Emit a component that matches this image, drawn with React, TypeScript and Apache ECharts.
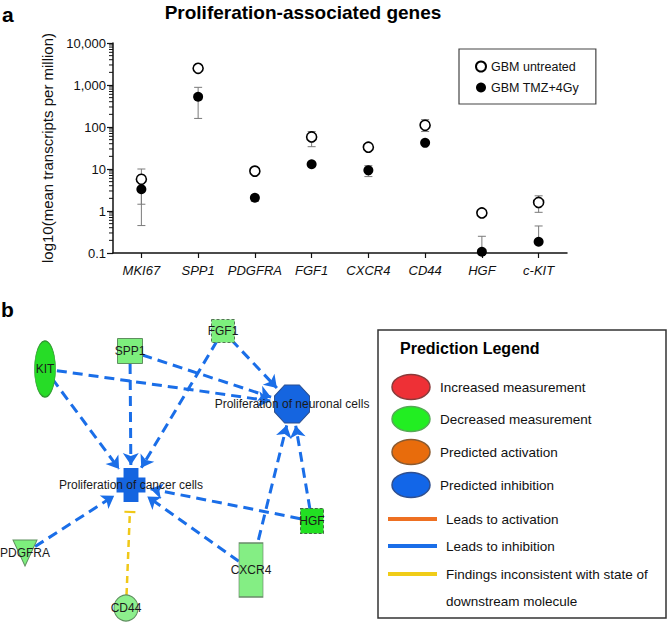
import { useEffect, useRef } from 'react';
import * as echarts from 'echarts';

// ---------- Panel a data ----------
const genes = ['MKI67', 'SPP1', 'PDGFRA', 'FGF1', 'CXCR4', 'CD44', 'HGF', 'c-KIT'];
const untreatedMean = [5.7, 2500, 8.9, 58, 33, 110, 0.9, 1.6];
const untreatedLow = [1.45, 2500, 8.9, 34, 33, 78, 0.9, 0.93];
const untreatedHigh = [10, 2500, 8.9, 78, 33, 150, 0.9, 2.3];
const treatedMean = [3.3, 525, 2.07, 13, 9.3, 42, 0.107, 0.185];
const treatedLow = [0.45, 160, 1.7, 13, 6.6, 42, 0.107, 0.185];
const treatedHigh = [6.1, 880, 2.4, 13, 12, 42, 0.25, 0.44];
const seriesNames = ['GBM untreated', 'GBM TMZ+4Gy'];
const decades = [0.1, 1, 10, 100, 1000];
const minorMultipliers = [2, 3, 4, 5, 6, 7, 8, 9];

// ---------- Panel b network ----------
const netNodes = ['KIT', 'SPP1', 'FGF1', 'Proliferation of neuronal cells', 'Proliferation of cancer cells', 'PDGFRA', 'CD44', 'CXCR4', 'HGF'];
const netEdges = [
  ['KIT', 'Proliferation of cancer cells'],
  ['KIT', 'Proliferation of neuronal cells'],
  ['SPP1', 'Proliferation of cancer cells'],
  ['SPP1', 'Proliferation of neuronal cells'],
  ['FGF1', 'Proliferation of cancer cells'],
  ['FGF1', 'Proliferation of neuronal cells'],
  ['PDGFRA', 'Proliferation of cancer cells'],
  ['CXCR4', 'Proliferation of cancer cells'],
  ['CXCR4', 'Proliferation of neuronal cells'],
  ['HGF', 'Proliferation of cancer cells'],
  ['HGF', 'Proliferation of neuronal cells'],
];
const inconsistentEdges = [['CD44', 'Proliferation of cancer cells']];
const legendShapes = ['Increased measurement', 'Decreased measurement', 'Predicted activation', 'Predicted inhibition'];
const legendLines = ['Leads to activation', 'Leads to inhibition', 'Findings inconsistent with state of'];

// layout (pixel positions of the diagram, not data)
const nodeLayout: Record<string, any> = {
  'KIT': { x: 45, y: 369, symbol: 'circle', size: [21, 56], color: '#27dc27', border: '#2f9a2f', clear: 24 },
  'SPP1': { x: 130, y: 351, symbol: 'rect', size: [25, 25], color: '#7def7d', border: '#5f8f5f', clear: 26 },
  'FGF1': { x: 223, y: 331, symbol: 'rect', size: [23, 23], color: '#7def7d', border: '#557755', dashed: true, clear: 24 },
  'Proliferation of neuronal cells': { x: 292, y: 404, symbol: 'path://M29,0 L71,0 L100,29 L100,71 L71,100 L29,100 L0,71 L0,29 Z', size: [35, 38], color: '#1565e0', border: '#2b4f8f', clear: 44 },
  'Proliferation of cancer cells': { x: 131, y: 485, symbol: 'path://M25,0 L75,0 L75,29 L100,29 L100,71 L75,71 L75,100 L25,100 L25,71 L0,71 L0,29 L25,29 Z', size: [28, 33], color: '#1565e0', border: '#1565e0', clear: 40, clearT: 54 },
  'PDGFRA': { x: 25, y: 553, symbol: 'triangle', rotate: 180, size: [24, 26], color: '#7def7d', border: '#5f8f5f', clear: 24 },
  'CD44': { x: 126, y: 608, symbol: 'circle', size: [24, 26], color: '#8def8d', border: '#5f8f5f', clear: 26 },
  'CXCR4': { x: 251, y: 570, symbol: 'rect', size: [24, 54], color: '#84ee84', border: '#6a8a6a', clear: 30 },
  'HGF': { x: 312, y: 521, symbol: 'rect', size: [23, 25], color: '#22e022', border: '#446644', dashed: true, clear: 24 },
};

const FONT = "'Liberation Sans', Arial, Helvetica, sans-serif";

function errRender(params: any, api: any) {
  const i = api.value(0);
  const lo = api.value(1);
  const hi = api.value(2);
  if (!(hi > lo)) return null;
  const p1 = api.coord([i, lo]);
  const p2 = api.coord([i, hi]);
  const w = 4;
  const style = { stroke: '#7a7a7a', lineWidth: 1 };
  return {
    type: 'group',
    children: [
      { type: 'line', shape: { x1: p1[0], y1: p1[1], x2: p2[0], y2: p2[1] }, style },
      { type: 'line', shape: { x1: p1[0] - w, y1: p1[1], x2: p1[0] + w, y2: p1[1] }, style },
      { type: 'line', shape: { x1: p2[0] - w, y1: p2[1], x2: p2[0] + w, y2: p2[1] }, style },
    ],
  };
}

// minor log ticks on the y axis (axis decoration)
function minorTickRender(params: any, api: any) {
  const d = api.value(1);
  const x0 = params.coordSys.x;
  const children = minorMultipliers.map((m) => {
    const y = api.coord([0, d * m])[1];
    return { type: 'line', shape: { x1: x0 - 4, y1: y, x2: x0, y2: y }, style: { stroke: '#111', lineWidth: 1 } };
  });
  return { type: 'group', children };
}

function buildOption() {
  const shapeNodes = netNodes.map((n) => {
    const L = nodeLayout[n];
    return {
      name: n,
      value: [L.x, L.y],
      symbol: L.symbol,
      symbolSize: L.size,
      symbolRotate: L.rotate || 0,
      itemStyle: { color: L.color, borderColor: L.border, borderWidth: 1, borderType: L.dashed ? [3, 2] : 'solid' },
      label: { show: true, position: 'inside', color: '#1a1a1a', fontSize: 12, fontFamily: FONT },
    };
  });
  const hiddenNodes = netNodes.map((n) => {
    const L = nodeLayout[n];
    return { name: n, value: [L.x, L.y], symbol: 'circle', symbolSize: L.clear, itemStyle: { opacity: 0 }, label: { show: false } };
  });
  const hiddenNodesT = netNodes.map((n) => {
    const L = nodeLayout[n];
    return { name: n, value: [L.x, L.y], symbol: 'circle', symbolSize: L.clearT || L.clear, itemStyle: { opacity: 0 }, label: { show: false } };
  });

  const graphics: any[] = [
    { type: 'text', x: 303, y: 12, style: { text: 'Proliferation-associated genes', font: `bold 19px ${FONT}`, fill: '#000', textAlign: 'center', textVerticalAlign: 'middle' } },
    { type: 'text', x: 2, y: 14, style: { text: 'a', font: `bold 21px ${FONT}`, fill: '#000', textVerticalAlign: 'middle' } },
    { type: 'text', x: 1, y: 309, style: { text: 'b', font: `bold 21px ${FONT}`, fill: '#000', textVerticalAlign: 'middle' } },
    { type: 'rect', shape: { x: 378, y: 330, width: 288, height: 288 }, style: { fill: '#fff', stroke: '#333', lineWidth: 1.5 }, z: -1 },
    { type: 'text', x: 400, y: 348, style: { text: 'Prediction Legend', font: `bold 16px ${FONT}`, fill: '#000', textVerticalAlign: 'middle' } },
  ];
  const shapeFill = ['#ee3036', '#22ee22', '#e86c0c', '#1266e8'];
  const shapeStroke = ['#8a3a3a', '#55aa55', '#8a5a30', '#2f4f8f'];
  const shapeY = [387, 419, 452, 485];
  legendShapes.forEach((t, i) => {
    graphics.push({ type: 'ellipse', shape: { cx: 411, cy: shapeY[i], rx: 19, ry: 12.5 }, style: { fill: shapeFill[i], stroke: shapeStroke[i], lineWidth: 1.5 } });
    graphics.push({ type: 'text', x: 440, y: shapeY[i], style: { text: t, font: `13.5px ${FONT}`, fill: '#111', textVerticalAlign: 'middle' } });
  });
  const lineColor = ['#ee7022', '#1a6ee8', '#f0cc18'];
  const lineY = [519, 546, 574];
  legendLines.forEach((t, i) => {
    graphics.push({ type: 'line', shape: { x1: 388, y1: lineY[i], x2: 437, y2: lineY[i] }, style: { stroke: lineColor[i], lineWidth: 4 } });
    graphics.push({ type: 'text', x: 446, y: lineY[i], style: { text: t, font: `13.5px ${FONT}`, fill: '#111', textVerticalAlign: 'middle' } });
  });
  graphics.push({ type: 'text', x: 446, y: 601, style: { text: 'downstream molecule', font: `13.5px ${FONT}`, fill: '#111', textVerticalAlign: 'middle' } });

  return {
    animation: false,
    backgroundColor: '#fff',
    textStyle: { fontFamily: FONT },
    grid: [
      { left: 113, top: 43, width: 454, height: 210 },
      { left: 0, top: 0, width: 670, height: 622 },
    ],
    xAxis: [
      {
        gridIndex: 0, type: 'category', data: genes, boundaryGap: true,
        axisLine: { show: true, lineStyle: { color: '#111', width: 1.5 } },
        axisTick: { show: true, alignWithLabel: true, length: 5, lineStyle: { color: '#111', width: 1.2 } },
        axisLabel: { interval: 0, fontStyle: 'italic', fontSize: 13, color: '#111', margin: 11, fontFamily: FONT },
        splitLine: { show: false },
      },
      { gridIndex: 1, type: 'value', min: 0, max: 670, show: false },
    ],
    yAxis: [
      {
        gridIndex: 0, type: 'log', logBase: 10, min: 0.1, max: 10000,
        name: 'log10(mean transcripts per million)', nameLocation: 'middle', nameGap: 58,
        nameTextStyle: { fontSize: 15, color: '#111', fontFamily: FONT },
        axisLine: { show: true, lineStyle: { color: '#111', width: 1.5 } },
        axisTick: { show: true, length: 6, lineStyle: { color: '#111', width: 1.2 } },
        splitLine: { show: false },
        axisLabel: { fontSize: 13, color: '#111', margin: 7, fontFamily: FONT, formatter: (v: number) => Number(v).toLocaleString('en-US') },
      },
      { gridIndex: 1, type: 'value', min: 0, max: 622, inverse: true, show: false },
    ],
    legend: {
      data: seriesNames, left: 459, top: 49, orient: 'vertical',
      padding: [11, 17, 10, 16], itemGap: 8, itemWidth: 10, itemHeight: 10,
      borderColor: '#444', borderWidth: 1.2, backgroundColor: '#fff',
      textStyle: { fontSize: 12.5, color: '#111', fontFamily: FONT },
    },
    series: [
      { type: 'custom', xAxisIndex: 0, yAxisIndex: 0, data: decades.map((d) => [0, d]), renderItem: minorTickRender, encode: { x: 0, y: 1 }, z: 6, silent: true, clip: false },
      { type: 'custom', xAxisIndex: 0, yAxisIndex: 0, data: genes.map((g, i) => [i, untreatedLow[i], untreatedHigh[i]]), renderItem: errRender, encode: { x: 0, y: [1, 2] }, z: 2, silent: true },
      { type: 'custom', xAxisIndex: 0, yAxisIndex: 0, data: genes.map((g, i) => [i, treatedLow[i], treatedHigh[i]]), renderItem: errRender, encode: { x: 0, y: [1, 2] }, z: 2, silent: true },
      { name: seriesNames[0], type: 'scatter', xAxisIndex: 0, yAxisIndex: 0, data: untreatedMean, symbol: 'circle', symbolSize: 10, itemStyle: { color: '#fff', borderColor: '#000', borderWidth: 1.6, opacity: 1 }, z: 4 },
      { name: seriesNames[1], type: 'scatter', xAxisIndex: 0, yAxisIndex: 0, data: treatedMean, symbol: 'circle', symbolSize: 10, itemStyle: { color: '#000', opacity: 1 }, z: 4 },
      {
        type: 'graph', coordinateSystem: 'cartesian2d', xAxisIndex: 1, yAxisIndex: 1, z: 2, silent: true,
        data: hiddenNodes,
        links: netEdges.map(([s, t]) => ({ source: s, target: t })),
        edgeSymbol: ['circle', 'arrow'], edgeSymbolSize: [0, 12],
        lineStyle: { color: '#1a6ee8', width: 3, type: [10, 6], opacity: 1, curveness: 0 },
      },
      {
        type: 'graph', coordinateSystem: 'cartesian2d', xAxisIndex: 1, yAxisIndex: 1, z: 2, silent: true,
        data: hiddenNodesT,
        links: inconsistentEdges.map(([s, t]) => ({ source: s, target: t })),
        edgeSymbol: ['circle', 'path://M0,40 L100,40 L100,60 L0,60 Z M50,0 L50.1,0 L50.1,100 L50,100 Z'], edgeSymbolSize: [0, 11],
        lineStyle: { color: '#f0c818', width: 2.5, type: [7, 5], opacity: 1, curveness: 0 },
        itemStyle: { color: '#f0c818' },
      },
      {
        type: 'graph', coordinateSystem: 'cartesian2d', xAxisIndex: 1, yAxisIndex: 1, z: 5, silent: true,
        data: shapeNodes, links: [],
      },
    ],
    graphic: graphics,
  };
}

export default function App() {
  const ref = useRef<HTMLDivElement>(null);
  useEffect(() => {
    document.body.style.margin = '0';
    const chart = echarts.init(ref.current!, null, { renderer: 'svg' });
    chart.setOption(buildOption() as any);
    return () => chart.dispose();
  }, []);
  return <div ref={ref} style={{ width: 670, height: 622 }} />;
}
